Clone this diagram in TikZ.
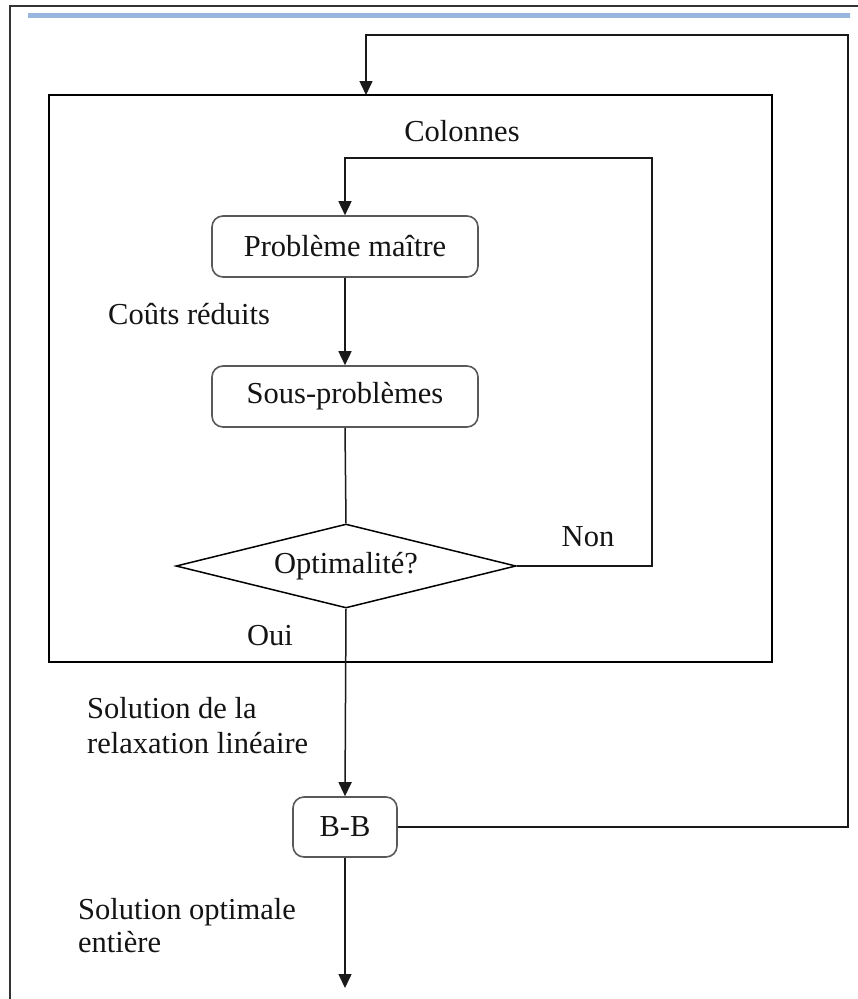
\documentclass[tikz,border=0pt]{standalone}
\usepackage{fontspec}
\setmainfont{Liberation Serif}
\usetikzlibrary{shapes.geometric,arrows.meta}
\definecolor{rulebl}{RGB}{152,182,224}
\definecolor{rulebllight}{RGB}{215,227,244}
\pgfdeclarehorizontalshading{rulefade}{100bp}{color(0bp)=(rulebllight); color(22bp)=(rulebl); color(100bp)=(rulebl)}
\begin{document}
\begin{tikzpicture}[x=1pt,y=-1pt,
  every node/.style={font=\fontsize{30.5}{35}\selectfont, text=black!92},
  lbl/.style={inner sep=0pt},
  rbox/.style={draw=black!65, line width=1.6pt, rounded corners=11pt, inner sep=0pt},
  conn/.style={line width=1.5pt, draw=black!90},
  arr/.style={conn, -{Triangle[length=14pt,width=13pt]}}]
\useasboundingbox (0,0) rectangle (858,999);
\fill[white] (0,0) rectangle (858,999);
% page frame and header rule
\draw[line width=1.6pt, black!80] (10,999) -- (10,6) -- (858,6);
\shade[shading=rulefade] (28,13) rectangle (850,17);
% outer box
\node[draw, line width=1.5pt, minimum width=723pt, minimum height=567pt, inner sep=0pt] (outer) at (410.5,378.5) {};
% nodes
\node[rbox, minimum width=266pt, minimum height=61pt] (pm) at (345,246.5) {Problème maître};
\node[rbox, minimum width=266pt, minimum height=61pt] (sp) at (345,396.5) {Sous-problèmes};
\node[diamond, draw, line width=1.5pt, minimum width=340pt, minimum height=84pt, inner sep=0pt] (dec) at (346,566) {};
\node[lbl] (dect) at (dec.center) {Optimalité?};
\node[rbox, minimum width=104pt, minimum height=60pt] (bb) at (345,827) {B-B};
% labels
\node[lbl] (colonnes) at (462,131) {Colonnes};
\node[lbl, anchor=west] (couts) at (108,314) {Coûts réduits};
\node[lbl] (non) at (588,537) {Non};
\node[lbl] (oui) at (270,636) {Oui};
\node[lbl, anchor=north west, align=left, font=\fontsize{30.5}{35}\selectfont] (relax) at (87,697) {Solution de la\\relaxation linéaire};
\node[lbl, anchor=north west, align=left, font=\fontsize{30.5}{33}\selectfont] (optent) at (78,898) {Solution optimale\\entière};
% connector coordinates
\coordinate (r1) at (848,35);
\coordinate (in1) at (366,95);
\coordinate (l1) at (652,158);
\coordinate (out1) at (345,988);
% connectors
\draw[arr] (bb.east) -| (r1) -| (in1);
\draw[arr] (dec.east) -| (l1) -| (pm.north);
\draw[arr] (pm.south) -- (sp.north);
\draw[conn] (sp.south) -- (dec.north);
\draw[arr] (dec.south) -- (bb.north);
\draw[arr] (bb.south) -- (out1);
\end{tikzpicture}
\end{document}
